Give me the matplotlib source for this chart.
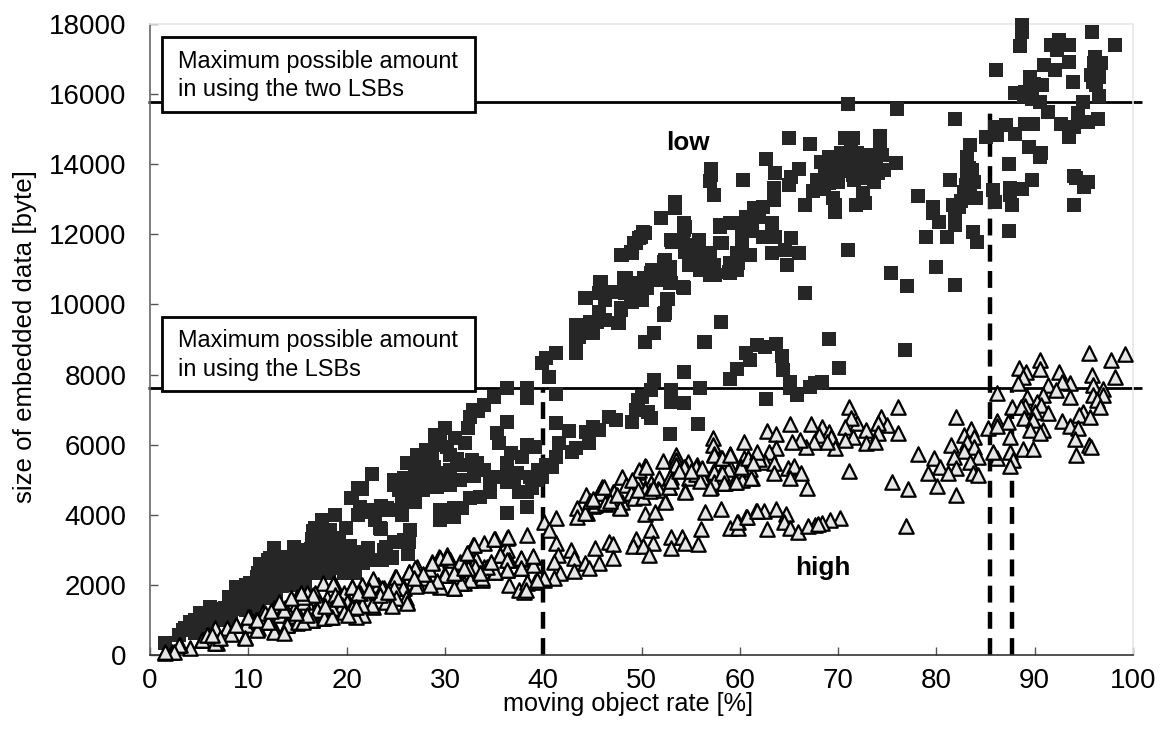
import numpy as np
import matplotlib
matplotlib.use('Agg')
import matplotlib.pyplot as plt

plt.rcParams['font.family'] = ['Liberation Sans', 'DejaVu Sans']

# low bitrate points (rate %, bytes)
low_right = [(88.7,17969),(88.7,17779),(88.5,17370),(95.8,17779),(98.2,17399),(91.7,17399),(92.5,17541),(93.5,17399),
 (92.3,17256),(90.9,16828),(93.5,16923),(92.1,16686),(86.1,16686),(93.9,16353),(96.1,17066),(96.7,16876),(96.1,16686),
 (95.9,16353),(96.5,16496),(89.5,16496),(90.7,16258),(89.5,16210),(88,16020),(88.9,15944),(89.7,15850),(90.5,15783),
 (91.4,15497),(89,15146),(89.8,15146),(87.1,15117),(86,15070),(85,14784),(86.2,14832),(88,14860),(92.7,15146),
 (93.5,14784),(94,15070),(94.4,15450),(94.9,15783),(95.4,15212),(96.4,15288),(96.5,15944),(89.4,14480),(90.6,14309),
 (90.5,14214),(87.4,14005),(94,13672),(94.2,13596),(95.4,13501),(95,13358),(89.7,13548),(88.7,13292),(87.5,13311),
 (87.5,13121),(85.8,13263),(86,12930),(87.7,12835),(94,12835),(87.4,12094),(96,16900),(95.7,16550),(96.2,16250),(89,16050),(89.9,16300)]
low_gap = [(81.9,15288),(83.4,14556),(83.1,14214),(83.1,14024),(83.6,13834),(83.1,13644),(83.8,13501),(81.4,13548),
 (82.8,13216),(84,13026),(82.9,13026),(81.7,12835),(82.3,12788),(78.1,13092),(79.7,12788),(79.7,12598),(80.3,12341),
 (81.9,12455),(81.9,12265),(78.9,11913),(81.1,11913),(83.7,12075),(84.1,11771),(80,11067),(81.9,10554),(75.4,10906),
 (77,10535),(76,15583),(71,15707),(83.3,13900),(83,13400),(83.4,13250),(82.5,12950)]
low_hump = [(65,14737),(67.1,14566),(70.7,14737),(71.5,14737),(74.3,14803),(71.3,14499),(74.3,14547),(69.1,14214),
 (68.3,14071),(70.3,14309),(71.9,14309),(73.5,14214),(74.5,14261),(75.9,14024),(69.3,13929),(70.3,13929),(71.3,14024),
 (72.3,13976),(73.9,13976),(74.7,13834),(68.7,13739),(69.9,13739),(71.5,13691),(73.1,13739),(74.1,13739),(67.9,13548),
 (69.1,13453),(73.7,13501),(67.4,13244),(72.5,13168),(69.5,13026),(69.7,12835),(69.7,12645),(72.7,12883),(71.8,12835),
 (66.6,12835),(71,11542),(66.6,10316),(70.5,13900),(72.7,14050),(68,13400),(72.9,13600),(69,13700),(70,13500),(70.8,13800),
 (71.6,13550),(72.4,13650),(73.2,13950),(70.5,14150),(71.8,14100),(73,14250),(69.6,14050),(68.6,13300)]
low_upper = [(57.1,13853),(57.1,13691),(57,13529),(57.4,13121),(60.3,13548),(62.7,14147),(63.6,13758),(66,13853),
 (65.2,13644),(65,13406),(63.5,13311),(63.5,12978),(62.4,12788),(61.4,12740),(60.6,12503),(53.4,12930),(53.4,12740),
 (52,12474),(50.2,12075),(49.7,11885),(49.2,11742),(49,11457),(47.9,11409),(59,12313),(58,12265),(60.6,12218),(61.2,12313),
 (60.2,11932),(63.3,12313),(62.4,11932),(63.6,11932),(65.2,11885),(64.6,11552),(66,11457),(63.3,11457),(61,11409),(64.8,11124),
 (54.4,12218),(53,11837),(54.2,11837),(55.8,11790),(54.4,11505),(55.5,11409),(54.8,11124),(56,10982),(57,11409),(57.4,11124),
 (57,10839),(58,11742),(59,11077),(59.8,11172),(59,10886),(60.2,11647),(52.4,11267),(52.4,10982),(51.6,10934),(51,10886),
 (50.3,10744),(53,10601),(54.2,10487),(48.2,10744),(45.9,10649),(45.7,10316),(44.3,10192),(46.3,10126),(47.1,10364),
 (48.3,10316),(49.3,10506),(48.9,10126),(49.9,10173),(52.6,10145),(47.9,9888),(45.7,9793),(52.4,9746),(61.2,12100),(62,12500)]
low_band = [(50.4,12027),(49.9,11913),(49.4,11742),(48.9,11504),(48,11409),(45.8,10648),(45.7,10315),(44.4,10173),(46.3,10125),(47.2,10363),
 (48.4,10743),(48.4,10363),(49.7,10600),(49.2,10315),(49,10078),(50.1,10125),(50.6,10458),(51.1,10791),(51.1,10981),(52.3,11218),(52.9,11076),
 (52.9,10791),(52.9,10601),(51.8,10696),(54.3,10477),(52.7,10144),(52.3,9716),(47.9,9840),(45.7,9745),(47.7,9460),(46.3,9555),(44.8,9507),
 (43.5,9365),(45,9175),(43.6,9080),(43.3,8747),(51.3,9175),(50.4,8918),(56.5,8918),(58.1,9507),(53.1,11789),(54.3,12122),(54.3,12312),
 (54.5,11694),(55.3,11361),(54.8,11171),(55.8,11837),(56,11171),(56,10981),(57,11456),(57,10981),(57.5,10838),(58.2,11742),(58.9,10933),
 (59,11171),(59.7,11456),(58,12217),(59.4,12312),(59.7,10981)]
low_mid_right = [(43.3,9412),(43.3,9222),(43.3,9032),(43.3,8842),(43.3,8604),(44.3,9174),(44.9,9460),(45.7,9697),(45.5,9507),
 (46.3,9555),(45.1,9174),(47.6,9460),(47.9,9840),(52.3,9697),(58.1,9507),(51.3,9174),(50.4,8918),(56.4,8918),(41.3,8623),
 (40.3,8461),(39.9,8319),(40.6,7938),(61.7,8842),(62.6,8794),(63.7,8861),(60.6,8604),(61,8414),(64.3,8537),(64.4,8129),
 (59.7,8148),(59,7862),(69.1,9003),(70.1,8195),(76.8,8699),(51.3,7843),(51,7558),(50,7368),(49.6,7273),(49.4,6988),(49,6655),
 (50.7,6940),(51,6750),(54.3,8071),(53,7558),(53,7225),(54.3,7178),(56,7606),(55.7,6579),(52.9,6294),(62.7,7301),(65.1,7796),
 (65.1,7606),(65.8,7415),(67.1,7653),(67.7,7748),(68.4,7796),(41.3,7444),(41.3,6626),(42.6,6389),(44.4,6370),(45.1,6512),
 (45.7,6417),(46.7,6798),(47.4,6702),(44.7,6037),(43.3,5894),(41.6,6037),(42.9,5799),(41.3,5657),(40.3,5419),(40.9,5372),(39.9,5086)]
low_left = [(36.3,7606),(38.4,7606),(38.4,7320),(35,7368),(34,7130),(32.9,6988),(32.6,6798),(32.4,6465),(30,6465),(29,6275),
 (29.5,6180),(32,6037),(30.2,5942),(30.5,5704),(27.2,5704),(26.1,5467),(27.8,5467),(27,5181),(22.6,5162),(24.8,4991),(25.8,5039),
 (28,4801),(25.3,4706),(27,4373),(25.6,4278),(21.6,4753),(20.4,4468),(21.4,4231),(22.7,4135),(24.1,4183),(25.6,4041),(21.2,3993),
 (22.9,3850),(23.4,3613),(17.5,3850),(16.8,3613),(18.3,3565),(19.9,3613),(17.5,3280),(26.5,3565),(25.8,3280),(24.8,3232),(26.2,2881),
 (24.6,2805),(23.8,2995),(22.2,3042),(22.1,2757),(20.4,2805),(19.7,2757),(19,2900),(20.7,2424),(19.7,2329),(12.6,3042),(12.2,2757),
 (14.6,3090),(16,2947),(14.6,2805),(16.3,2710),(17.6,2614),(13.2,2424),(15,2424),(17,2329),(10.9,2234),(8.7,1949),(8.7,1711),
 (10.2,2044),(11.9,2139),(9.5,1759),(13.6,2044),(6.1,1379),(5.1,1188),(7,1284),(7.6,1331),(4.1,951),(2.9,570),(3.6,760),(1.5,333),
 (4.6,618),(6.4,951),(18.3,3185),(18.7,2519),(21.7,2614),(11.2,2600),(12.8,2500),(13.9,2800),(15.4,2650),(16.8,3000),(18,2850),
 (10.3,1750),(11.4,1900),(12.5,2150),(14.2,2250),(15.8,2200),(9.2,1500),(7.9,1150),(19.2,3350),(20.3,3100),(21.4,2950)]
low_fill = [(12,2700),(13.2,2720),(14.4,2690),(15.6,2730),(16.8,2700),(18,2680),(19.2,2710),(20.4,2660),(21.6,2700),
 (11,2350),(12.2,2370),(13.4,2340),(14.6,2360),(15.8,2330),(17,2380),(18.2,2350),(9.8,2000),(11,1990),(12.2,2010),(13.4,1980),
 (14.6,2000),(15.8,1970),(8,1650),(9.2,1640),(10.4,1660),(11.6,1630),(12.8,1650),(6.2,1300),(7.4,1290),(8.6,1310),(9.8,1280),(11,1300),
 (4.6,1000),(5.8,1010),(7,990),(8.2,1000),(3.4,700),(4.6,690),(5.6,710),(15.2,3000),(16.4,3020),(17.6,2990),(18.2,3050),(19,3010),
 (16.5,3300),(17.8,3320),(16.6,3550),(18,3560),(18.8,3993),(20.5,4468),(21.2,4753),(22.4,2709),(23.6,2709),(24.6,2757),(25,3232),
 (24,3090),(22.2,3042),(21.9,2852),(20.5,2757),(19.5,2757),(19.5,2472),(20.9,2329),(26.3,3232),(26.2,2881)]
low_mid_left = [(29.5,4135),(29.5,3850),(30.7,4041),(31.6,4183),(32.6,4468),(33.6,4516),(34.6,4658),(36.3,4041),(38.4,4212),(37.5,4658),
 (38.4,4658),(35.3,5086),(36.3,5134),(37.3,5181),(38.7,5086),(39.5,5276),(36.3,5467),(36.7,5752),(37.8,5657),(38.4,5990),(39.2,5942),
 (35.5,6037),(35.3,6322),(36.3,6655),(33.3,5467),(34,5276),(31.9,5419),(30.5,5276),(29.2,5181),(32.8,5562),(27.8,5086),(28.6,4950),
 (30.1,5050),(26.4,4600),(28.7,5650),(31,6200),(33.4,6950),(26.3,4900),(23.5,4250),(21.6,4725),(22.6,4088),(23.6,4135),(24.8,4135),(25.6,4373),
 (25.6,3993),(23.5,3584),(26.4,3565),(27,4373),(27.8,4706),(29.2,4801),(30.5,4848),(24.8,4848),(36.3,4943),(34.6,4943),(38.9,4753),(39.4,4991),
 (30.9,4183),(30.9,3945),(31.7,4183),(37.9,4658),(37,5000),(33,5100),(31.5,5000),(29,6000),(28.1,5850),(27.5,5300),(28.9,5350),(31.2,5600)]

# high bitrate points (rate %, bytes)
high_right = [(95.5,8623),(99.2,8575),(97.8,8414),(98.2,7938),(90.5,8414),(90.5,8148),(88.4,8195),(89.1,8081),(88.8,7938),(88.3,7748),
 (92.5,8081),(95.8,7986),(93.6,7748),(91.4,7701),(92.8,7796),(95.9,7701),(96.9,7577),(92.2,7558),(86.2,7482),(90.8,7415),(89.2,7349),
 (93.6,7368),(95.9,7415),(96.9,7415),(90.2,7225),(96.3,7273),(89,7102),(87.7,7064),(88.6,7083),(90.6,7130),(96.6,7083),(91.4,6912),
 (94.9,6940),(90,6940),(86.2,6683),(87.3,6655),(88.9,6750),(89.8,6702),(92.8,6683),(94.5,6845),(95.6,6778),(85.2,6465),(86.2,6531),
 (89.5,6417),(90.8,6417),(93.6,6531),(94.4,6465),(90.5,6322),(87.5,6227),(94.1,6151),(95.5,5990),(95.7,5942),(88.8,5875),(89.8,5875),
 (87.5,5799),(94.2,5704),(86.2,5609),(87.8,5562),(87.5,5400),(85.8,5799)]
high_gap = [(82,6798),(83.5,6436),(82.8,6275),(83.8,6208),(83.1,6084),(81.5,5990),(83.8,5942),(82.8,5818),(81.8,5657),(84.2,5657),(79.8,5609),
 (83.4,5514),(78.1,5733),(80.4,5352),(82,5324),(79.1,5181),(81.2,5181),(83.7,5200),(84.2,5134),(80.1,4820),(82,4563),(77.1,4734),
 (75.5,4944),(76.9,3679)]
high_mid = [(76.1,7064),(76.1,6322),(74.4,6798),(75,6560),(74.1,6626),(71.9,6626),(71.1,7083),(71.3,6750),(70.7,6493),(68.4,6512),
 (67.2,6588),(69.1,6370),(72.8,6417),(74.1,6322),(71.5,6227),(68.1,6275),(69.3,6227),(70.7,6132),(72.8,6037),(73.8,6084),(69.7,5894),
 (68.9,6084),(67.5,6084),(66.7,5942),(66.1,6132),(65.3,6084),(65.1,6588),(62.8,6389),(63.7,6294),(63.7,5894),(63,5799),(71.1,5248),
 (62.6,5514),(63.5,5467),(63.5,5181),(64.9,5324),(65.5,5400),(66.2,5200),(65.1,5039),(66.8,4773),(57.3,6179),(57.3,5990),(60.4,6084),
 (57.4,5733),(59,5723),(58.1,5609),(61.8,5704),(60.4,5609),(61.2,5514),(60,5372),(59,5372),(57.3,5229),(58.1,5181),(60.2,5181),(61.2,5058),
 (59.4,4944),(58.5,4896),(57.3,4991),(57.1,4801),(60.2,4991),(53.5,5704),(52.2,5543),(53.5,5562),(54.7,5514),(55.6,5419),(54.4,5372),
 (50.4,5400),(49.6,5229),(48,5086),(53,5086),(51.8,5039),(54.8,5039),(56.2,5086),(50.4,4753),(52.8,4801),(51.7,4734),(49,4611),(47.1,4658),
 (46,4801),(44.4,4563),(45.7,4611),(48.4,4849),(54.4,4687),(52.4,4392),(48,4373),(46.3,4307),(45.1,4250),(43.4,4183),(43.4,3945),(44.5,4040),
 (47.8,4212),(61,5300),(62,5600),(55.5,5150),(51,4900),(49.5,4950),(47,4450),(56,4950),(58.8,5300)]
high_mid_fill = [(45.3,4278),(44.3,4040),(45.8,4611),(46.2,4801),(47.2,4658),(46.3,4326),(48.9,4611),(47.8,4183),(49.7,5276),(50.5,5371),(49,4991),
 (49.2,4468),(50.2,4516),(50.4,4706),(51.8,4706),(52.8,4801),(52.4,4373),(53.5,5419),(54.3,5371),(54.4,4658),(52.9,5086),(55.5,5371),(56.2,5324),
 (57.4,5229),(57.4,4943),(57,4753),(57.4,5704),(58.2,5609),(59,5704),(58.2,5181),(58.4,4896),(59.6,4943),(60.1,5371),(61.1,5039),(60.8,5609),
 (61.8,5799),(61.3,5466),(44.8,4380),(45.1,4450),(46.8,4400),(47.5,4560),(49.6,4720),(50.9,4680),(51.2,4760),(53,4950),(53.8,5250),(55,5250)]
high_low = [(50.4,4021),(51.4,4069),(56.5,4069),(58.1,4154),(61.6,4117),(62.5,4117),(63.7,4154),(60.6,3926),(59.8,3803),(64.7,4021),(64.5,3803),
 (65.1,3632),(65.9,3498),(62.8,3594),(59,3632),(59.8,3613),(70.2,3898),(69.2,3850),(68.4,3774),(67.6,3708),(56.1,3594),(51,3565),(53,3375),
 (54.1,3375),(49.4,3299),(51.2,3204),(46.7,3213),(47.1,3156),(49.1,3118),(50.2,3118),(54.4,3185),(55.7,3166),(45.3,3042),(53,3042),(50.8,2852),
 (47.1,2776),(42.8,2995),(41.3,3185),(41.5,2852),(43.1,2757),(45.7,2614),(44.3,2614),(41.1,2662),(44.7,2491),(43.1,2405),(41.7,2348),(40.1,2139),
 (41.1,2186),(40.1,3803),(41.3,3898),(40.6,3565),(66.9,3680),(68,3740),(59.7,3803),(60.7,3926),(61.8,4116)]
high_left = [(38.4,3423),(36.3,3328),(35.1,3299),(34,3185),(32.9,3137),(32.3,2900),(36.3,2995),(39,2805),(37.7,2729),(35.6,2852),(36.5,2709),(35,2377),
 (36.3,2424),(37.7,2472),(39,2567),(34,2519),(32.4,2519),(30.2,2852),(29.4,2805),(28.7,2662),(30.5,2709),(29.9,2282),(31.1,2329),(28,2186),(31.9,2044),
 (32.6,2139),(33.8,2139),(29.5,1949),(30.9,1901),(36.5,1996),(38.4,2044),(37.5,1854),(38,1806),(39.2,2092),(40.1,2186),(27.2,2519),(26.3,2377),
 (24.9,2234),(27.2,2044),(25.8,1901),(24.8,1664),(26.1,1521),(22.7,2139),(23.8,1901),(22.9,1759),(22.7,1379),(21.4,1759),(20.5,1949),(19.7,1759),
 (18.7,2044),(17.6,2044),(16.8,1759),(18,1616),(19.7,1284),(20.7,1331),(21.5,1426),(18.3,1093),(17,1284),(17.5,1046),(16.5,1000),(16,1759),(15,1664),
 (13.7,1331),(14.8,1378),(12.6,1331),(11.5,1236),(10.2,1093),(12.1,951),(15,922),(13.9,856),(12.7,713),(11,760),(9.7,523),(8.7,856),(7.8,760),(6.6,713),
 (6.8,333),(5.3,428),(4.1,190),(3.05,285),(2.2,95),(1.5,48),(5.9,570),(16.3,1331),(21.7,1140),(21,1093),(19,1378),(20,1521),(15.6,1521),(13.2,1140),(9.8,856),
 (24,1500),(23.2,2000),(25.3,2050),(28.4,2450),(31.5,2650),(33.2,2750),(17.2,1500),(14.2,1100),(11.8,1050),(10.8,1000),(8.2,600),(22,1600)]
high_left_fill = [(33,3137),(36.4,3356),(35,3299),(32.2,2900),(35.6,2852),(36.3,2709),(37.7,2757),(39,2823),(37.7,2472),(36.3,2424),(35.1,2377),(34.3,2500),
 (33.8,2186),(33.1,2500),(32.4,2472),(32.6,2139),(31.6,2044),(30.9,1901),(30,2282),(30.9,2329),(29.5,2757),(30.2,2805),(28.7,2614),(27,2472),
 (26.3,2377),(25,2234),(27.1,1968),(25.7,1901),(24.8,1901),(26,1616),(25,1616),(26.1,1474),(24.6,1397),(22.7,2158),(23.6,1901),(21.6,1996),(21.4,1759),
 (22.6,1426),(21.6,1426),(20.5,1397),(19.5,1426),(38.4,2092),(39.4,2139),(38.2,1854),(18.6,2025),(20.5,1949),(21.2,1759),(16.6,1711),(18.8,1711),
 (15.6,1664),(13.6,1283),(17,1283),(18.5,1331),(20.5,1331),(19.7,1236),(21,1378),(16.5,998),(17.7,1046),(18.5,1093),(13.9,855),(15.1,950),(12.6,665),
 (10.9,713),(11.7,1188),(10,1093),(10.9,998),(12,950),(9.7,475),(8.7,855),(6.6,760),(6.6,333),(7.1,475),(5.3,428),(2.9,285),(2.4,95),(1.5,95),(5.8,570),
 (6.3,570),(15.4,1759),(14.3,1616),(13.1,1521),(15.6,950),(13.6,618),(29.2,2100),(28.5,2000),(27.8,2300),(26.9,2200),(23.4,1700),(24.2,1800),(22.3,1850),
 (19.1,1600),(17.8,1400),(16,1150),(14.9,1200),(12.3,1250),(20.1,1150),(31.9,2480),(33.6,2350),(34.7,2650)]

low = low_right + low_gap + low_hump + low_upper + low_band + low_mid_right + low_left + low_fill + low_mid_left
high = high_right + high_gap + high_mid + high_mid_fill + high_low + high_left + high_left_fill
low_x, low_y = zip(*low)
high_x, high_y = zip(*high)

two_lsb = 15780
one_lsb = 7630
x_ticks = list(range(0, 101, 10))
y_ticks = list(range(0, 18001, 2000))
dash_x = [40, 85.5, 87.7]
dash_top = [7630, 15500, 7630]

fig = plt.figure(figsize=(11.7, 7.43), dpi=100)
ax = fig.add_axes([150/1170, 1-655/743, (1133-150)/1170, (655-24)/743])

for xd, top in zip(dash_x, dash_top):
    ax.plot([xd, xd], [0, top], color='black', lw=3.2, dashes=(3.8, 2.1), dash_capstyle='butt', zorder=2, clip_on=False)

ax.plot([-0.2, 100.9], [two_lsb, two_lsb], color='black', lw=2.0, zorder=2, clip_on=False, solid_capstyle='butt')
ax.plot([-0.2, 100.9], [one_lsb, one_lsb], color='black', lw=2.0, zorder=2, clip_on=False, solid_capstyle='butt')

ax.scatter(low_x, low_y, s=96, marker='s', color='#262626', linewidths=0, zorder=3, clip_on=False)
ax.scatter(high_x, high_y, s=108, marker='^', facecolor='#e6e6e6', edgecolor='black', linewidths=1.6, zorder=4, clip_on=False)

ax.set_xlim(0, 100)
ax.set_ylim(0, 18000)
ax.set_xticks(x_ticks)
ax.set_yticks(y_ticks)
ax.tick_params(direction='in', length=6, width=1, color='#555555', labelsize=20, pad=9)
ax.tick_params(axis='y', pad=17)
for s in ['top', 'right']:
    ax.spines[s].set_color('#e8e8e8')
ax.spines['left'].set_color('#666666')
ax.spines['bottom'].set_color('#333333')
for s in ax.spines.values():
    s.set_linewidth(1.2)

ax.set_xlabel('moving object rate [%]', fontsize=18.2, labelpad=-1, x=0.4867)
ax.set_ylabel('size of embedded data [byte]', fontsize=18.6, labelpad=8.6, y=0.505)

# boxes placed in figure pixels
for y0, y1, txt in [(37, 112, 'Maximum possible amount\nin using the two LSBs'),
                    (317, 391, 'Maximum possible amount\nin using the LSBs')]:
    fig.patches.append(plt.Rectangle((162/1170, 1-y1/743), (475-162)/1170, (y1-y0)/743, transform=fig.transFigure,
                                     facecolor='white', edgecolor='black', lw=2.0, zorder=5))
    fig.text(178/1170, 1-((y0+y1)/2+1)/743, txt, fontsize=16.9, va='center', ha='left', linespacing=1.3, zorder=6)

ax.text(54.7, 14950, 'low', fontsize=18.8, fontweight='bold', ha='center', va='top')
ax.text(68.4, 2470, 'high', fontsize=18.8, fontweight='bold', ha='center', va='center')

fig.savefig('out.png', dpi=100)
